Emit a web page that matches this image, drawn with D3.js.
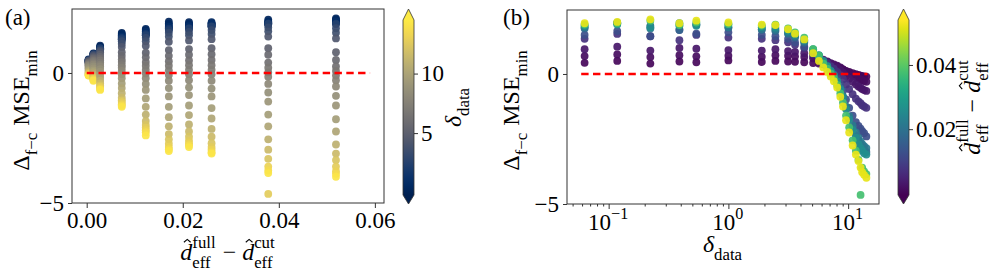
<!DOCTYPE html>
<html>
<head>
<meta charset="utf-8">
<script src="https://cdn.jsdelivr.net/npm/d3@7"></script>
<style>
body { margin: 0; background: #fff; }
text { font-family: "Liberation Serif", "DejaVu Serif", serif; fill: #000; white-space: pre; }
</style>
</head>
<body>
<svg width="997" height="274"></svg>
<script>
// delta_data values (one per column of mseDiff)
var deltaData = [0.063, 0.118, 0.223, 0.39, 0.54, 1.0, 1.9, 2.47, 3.15, 3.6, 4.3, 5.1, 5.7, 6.2, 6.7,
    7.15, 7.6, 8.1, 8.6, 9.05, 9.6, 10.2, 10.9, 11.6, 12.2, 12.7, 13.1, 13.6, 14.2];

// d_eff^full - d_eff^cut values (one per row of mseDiff)
var deffDiff = [0.0004, 0.0014, 0.0028, 0.0073, 0.0123, 0.0171, 0.0213, 0.026, 0.0378, 0.0519];

// Delta_{f-c} MSE_min, rows follow deffDiff, columns follow deltaData
var mseDiff = [
    [0.43, 0.5, 0.4, 0.48, 0.45, 0.52, 0.46, 0.5, 0.48, 0.47, 0.45, 0.42, 0.4, 0.37, 0.35, 0.32, 0.3, 0.27, 0.22, 0.18, 0.12, 0.08, 0.03, -0.01, -0.04, -0.06, -0.08, -0.09, -0.1],
    [0.69, 0.75, 0.65, 0.72, 0.68, 0.7, 0.66, 0.72, 0.7, 0.68, 0.65, 0.6, 0.55, 0.5, 0.46, 0.42, 0.37, 0.32, 0.25, 0.18, 0.1, 0.03, -0.05, -0.12, -0.17, -0.21, -0.24, -0.27, -0.3],
    [0.95, 1.05, 0.9, 1.0, 0.97, 0.92, 0.9, 0.95, 0.88, 0.85, 0.8, 0.7, 0.62, 0.55, 0.48, 0.4, 0.32, 0.25, 0.15, 0.05, -0.08, -0.18, -0.3, -0.4, -0.48, -0.53, -0.58, -0.62, -0.65],
    [1.35, 1.54, 1.45, 1.3, 1.5, 1.4, 1.35, 1.3, 1.22, 1.12, 1.0, 0.8, 0.66, 0.52, 0.42, 0.3, 0.2, 0.08, -0.05, -0.2, -0.4, -0.58, -0.78, -0.95, -1.05, -1.12, -1.2, -1.25, -1.3],
    [1.5, 1.65, 1.45, 1.69, 1.55, 1.6, 1.5, 1.45, 1.35, 1.22, 1.05, 0.78, 0.6, 0.42, 0.28, 0.12, -0.02, -0.2, -0.42, -0.65, -0.98, -1.3, -1.6, -1.85, -2.0, -2.1, -2.2, -2.28, -2.4],
    [1.75, 1.97, 1.85, 1.7, 1.9, 1.78, 1.7, 1.65, 1.55, 1.4, 1.2, 0.88, 0.66, 0.45, 0.28, 0.1, -0.08, -0.3, -0.58, -0.9, -1.3, -1.7, -2.05, -2.35, -2.55, -2.72, -2.85, -2.93, -3.0],
    [1.8, 1.95, 1.75, 1.85, 1.9, 1.8, 1.72, 1.7, 1.58, 1.45, 1.25, 0.92, 0.7, 0.48, 0.3, 0.12, -0.05, -0.28, -0.55, -0.85, -1.25, -1.62, -1.98, -2.25, -2.45, -2.6, -2.7, -2.78, -2.85],
    [1.85, 1.9, 1.8, 1.95, 1.85, 1.9, 1.8, 1.78, 1.65, 1.5, 1.3, 0.95, 0.72, 0.5, 0.3, 0.12, -0.05, -0.3, -0.6, -0.9, -1.35, -1.75, -2.15, -2.45, -2.7, -2.85, -2.95, -3.05, -3.1],
    [1.9, 1.95, 2.05, 1.88, 1.98, 1.92, 1.86, 1.9, 1.75, 1.6, 1.4, 0.95, 0.7, 0.4, 0.2, 0.02, -0.15, -0.42, -0.75, -1.1, -1.6, -2.05, -2.55, -2.95, -3.3, -4.65, -3.6, -3.75, -3.85],
    [1.95, 2.0, 2.1, 1.95, 2.05, 1.98, 1.9, 1.88, 1.72, 1.55, 1.33, 0.8, 0.5, 0.25, 0.08, -0.1, -0.28, -0.52, -0.88, -1.25, -1.78, -2.25, -2.75, -3.1, -3.35, -3.6, -3.78, -3.88, -3.99]
];

// axis limits, ticks, colour limits and the dashed zero line extents
var yLimits = [-5, 2.46];
var yTicks = [-5, 0];
var xLimitsA = [-0.00306, 0.0619];
var xTicksA = [0, 0.02, 0.04, 0.06];
var xLimitsB = [0.0449, 18.1];
var xTicksB = [-1, 0, 1];          // powers of ten
var colorLimitsA = [-0.2, 14.5];   // delta_data
var colorTicksA = [5, 10];
var colorLimitsB = [-0.0005, 0.054]; // d_eff difference
var colorTicksB = [0.02, 0.04];
var zeroLineA = [0, 0.059];
var zeroLineB = [0.059, 14.5];

var svg = d3.select("svg");
var fontFamily = '"Liberation Serif", "DejaVu Serif", serif';
var tickSize = 23, labelSize = 24;

// flat list of points, shared by both panels
var points = [];
deffDiff.forEach(function (dd, i) {
    deltaData.forEach(function (dl, j) {
        points.push({deff: dd, delta: dl, mse: mseDiff[i][j]});
    });
});

// write a small math expression, returns its width
function mathText(g, parts, size) {
    var x = 0;
    parts.forEach(function (p) {
        if (p.t !== undefined) {
            var t = g.append("text").attr("x", x).attr("y", 0)
                .style("font-size", size + "px")
                .style("font-style", p.it ? "italic" : "normal")
                .text(p.t);
            var w = t.node().getComputedTextLength();
            if (p.hat) {
                // hat accent drawn as a small stroke
                var cx = x + w * 0.58, h = size;
                g.append("path")
                    .attr("d", "M" + (cx - 0.14 * h) + "," + (-0.74 * h) + "L" + cx + "," + (-0.86 * h) +
                        "L" + (cx + 0.14 * h) + "," + (-0.74 * h))
                    .attr("fill", "none").attr("stroke", "#000").attr("stroke-width", 1.1);
            }
            x += w;
        } else {
            var w2 = 0;
            if (p.sup) {
                var s = g.append("text").attr("x", x).attr("y", -0.5 * size)
                    .style("font-size", 0.7 * size + "px").text(p.sup);
                w2 = Math.max(w2, s.node().getComputedTextLength());
            }
            if (p.sub) {
                var b = g.append("text").attr("x", x).attr("y", 0.32 * size)
                    .style("font-size", 0.7 * size + "px").text(p.sub);
                w2 = Math.max(w2, b.node().getComputedTextLength());
            }
            x += w2 + 1;
        }
    });
    return x;
}

// centred math text, optionally rotated
function placeMath(parts, size, cx, cy, rotated) {
    var outer = svg.append("g")
        .attr("transform", "translate(" + cx + "," + cy + ")" + (rotated ? " rotate(-90)" : ""));
    var inner = outer.append("g");
    var w = mathText(inner, parts, size);
    inner.attr("transform", "translate(" + (-w / 2) + ",0)");
}

var deltaLabel = [{t: "\u03B4", it: true}, {sub: "data"}];
var deffLabel = [{t: "d", it: true, hat: true}, {sup: "full", sub: "eff"}, {t: " \u2212 "},
    {t: "d", it: true, hat: true}, {sup: "cut", sub: "eff"}];
var mseLabel = [{t: "\u0394"}, {sub: "f\u2212c"}, {t: " MSE"}, {sub: "min"}];

function styleTicks(ax) {
    ax.attr("font-family", fontFamily).attr("font-size", tickSize);
    ax.select(".domain").remove();
    ax.selectAll(".tick line").attr("stroke", "#333");
}

function drawPanel(p) {
    var g = svg.append("g");
    var y = d3.scaleLinear().domain(yLimits).range([p.bottom, p.top]);
    var x = p.x;

    // points
    g.selectAll("circle").data(points).enter().append("circle")
        .attr("cx", function (d) { return x(p.xOf(d)); })
        .attr("cy", function (d) { return y(d.mse); })
        .attr("r", 3.9)
        .attr("fill", function (d) { return p.color(p.cOf(d)); })
        .attr("fill-opacity", 0.92);

    // dashed zero line
    g.append("line")
        .attr("x1", x(p.zero[0])).attr("x2", x(p.zero[1]))
        .attr("y1", y(0)).attr("y2", y(0))
        .attr("stroke", "#ff0000").attr("stroke-width", 2.6)
        .attr("stroke-dasharray", "7.4,4.4");

    // frame
    g.append("rect")
        .attr("x", p.left).attr("y", p.top)
        .attr("width", p.right - p.left).attr("height", p.bottom - p.top)
        .attr("fill", "none").attr("stroke", "#333").attr("stroke-width", 1);

    // y axis
    var ya = g.append("g").attr("transform", "translate(" + p.left + ",0)")
        .call(d3.axisLeft(y).tickValues(yTicks).tickSize(4).tickPadding(4).tickFormat(d3.format("d")));
    styleTicks(ya);

    // x axis
    var xa = g.append("g").attr("transform", "translate(0," + p.bottom + ")");
    if (p.log) {
        var minor = [];
        [-2, -1, 0, 1].forEach(function (e) {
            for (var k = 2; k <= 9; k++) {
                var v = k * Math.pow(10, e);
                if (v > x.domain()[0] && v < x.domain()[1]) minor.push(v);
            }
        });
        xa.call(d3.axisBottom(x).tickValues(minor).tickSize(2.5).tickFormat(""));
        styleTicks(xa);
        var xb = g.append("g").attr("transform", "translate(0," + p.bottom + ")")
            .call(d3.axisBottom(x).tickValues(xTicksB.map(function (e) { return Math.pow(10, e); }))
                .tickSize(5).tickFormat(""));
        styleTicks(xb);
        xTicksB.forEach(function (e) {
            var ex = e < 0 ? "\u2212" + (-e) : String(e);
            placeMath([{t: "10"}, {sup: ex}], tickSize, x(Math.pow(10, e)), p.bottom + 26, false);
        });
    } else {
        xa.call(d3.axisBottom(x).tickValues(xTicksA).tickSize(5).tickPadding(4).tickFormat(d3.format(".2f")));
        styleTicks(xa);
    }

    // labels
    placeMath(p.xLabel, labelSize, (p.left + p.right) / 2, p.xLabelY, false);
    placeMath(mseLabel, labelSize, p.yLabelX, 110, true);
    svg.append("text").attr("x", p.letterX).attr("y", 25)
        .style("font-size", "23px").text(p.letter);
}

function drawColorbar(c) {
    var y = d3.scaleLinear().domain(c.limits).range([195, 20]);
    var id = "grad" + c.letter;
    var grad = svg.append("defs").append("linearGradient").attr("id", id)
        .attr("x1", 0).attr("y1", 1).attr("x2", 0).attr("y2", 0);
    d3.range(0, 1.0001, 0.05).forEach(function (t) {
        grad.append("stop").attr("offset", t).attr("stop-color", c.interp(t));
    });
    var x0 = c.x0, x1 = c.x0 + 11, xm = c.x0 + 5.5;
    svg.append("path")
        .attr("d", "M" + x0 + ",20L" + xm + ",9L" + x1 + ",20Z")
        .attr("fill", c.interp(1));
    svg.append("path")
        .attr("d", "M" + x0 + ",195L" + xm + ",204L" + x1 + ",195Z")
        .attr("fill", c.interp(0));
    svg.append("rect").attr("x", x0).attr("y", 20).attr("width", 11).attr("height", 175)
        .attr("fill", "url(#" + id + ")");
    svg.append("path")
        .attr("d", "M" + x0 + ",20L" + xm + ",9L" + x1 + ",20L" + x1 + ",195L" + xm + ",204L" + x0 + ",195Z")
        .attr("fill", "none").attr("stroke", "#333").attr("stroke-width", 0.8);
    var ax = svg.append("g").attr("transform", "translate(" + x1 + ",0)")
        .call(d3.axisRight(y).tickValues(c.ticks).tickSize(4).tickPadding(3).tickFormat(c.format));
    styleTicks(ax);
    placeMath(c.label, labelSize, c.labelX, 107, true);
}

var colorA = d3.scaleSequential(d3.interpolateCividis).domain(colorLimitsA);
var colorB = d3.scaleSequential(d3.interpolateViridis).domain(colorLimitsB);

drawPanel({
    letter: "(a)", letterX: 5,
    left: 72, right: 384, top: 9, bottom: 203,
    x: d3.scaleLinear().domain(xLimitsA).range([72, 384]),
    xOf: function (d) { return d.deff; },
    cOf: function (d) { return d.delta; },
    color: colorA, zero: zeroLineA, log: false,
    xLabel: deffLabel, xLabelY: 260, yLabelX: 29
});
drawColorbar({
    letter: "a", x0: 403, limits: colorLimitsA, ticks: colorTicksA,
    interp: d3.interpolateCividis, format: d3.format("d"),
    label: deltaLabel, labelX: 461
});

drawPanel({
    letter: "(b)", letterX: 503,
    left: 567, right: 879, top: 10, bottom: 204,
    x: d3.scaleLog().domain(xLimitsB).range([567, 879]),
    xOf: function (d) { return d.delta; },
    cOf: function (d) { return d.deff; },
    color: colorB, zero: zeroLineB, log: true,
    xLabel: deltaLabel, xLabelY: 252, yLabelX: 519
});
drawColorbar({
    letter: "b", x0: 898, limits: colorLimitsB, ticks: colorTicksB,
    interp: d3.interpolateViridis, format: d3.format(".2f"),
    label: deffLabel, labelX: 980
});
</script>
</body>
</html>
